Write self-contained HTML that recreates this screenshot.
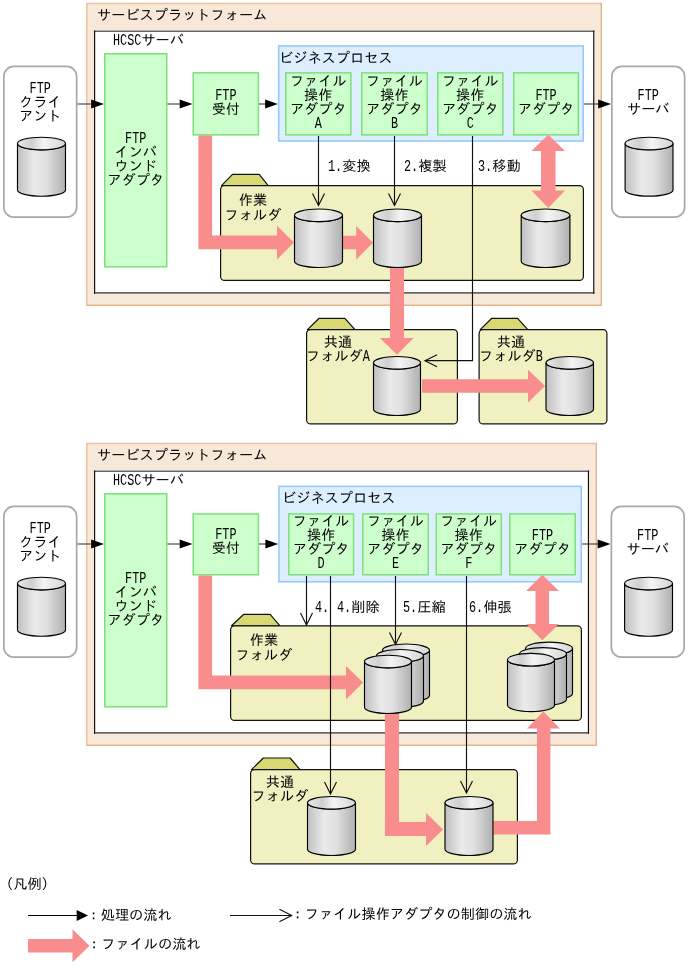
<!DOCTYPE html>
<html lang="ja"><head><meta charset="utf-8"><title>FTP連携</title>
<style>
html,body{margin:0;padding:0;background:#fff;}
svg{display:block;will-change:transform;}
text{font-family:"Liberation Sans", "IPAGothic", sans-serif;fill:#000;}
text.l{font-family:"Liberation Mono", monospace;}
</style></head><body>
<svg width="688" height="965" viewBox="0 0 688 965">
<defs>
<linearGradient id="gb" x1="0" x2="1" y1="0" y2="0"><stop offset="0" stop-color="#c0c0c0"/><stop offset="0.35" stop-color="#eaeaea"/><stop offset="0.6" stop-color="#e0e0e0"/><stop offset="1" stop-color="#b0b0b0"/></linearGradient>
<linearGradient id="gt" x1="0" x2="1" y1="0" y2="0"><stop offset="0" stop-color="#e8e8e8"/><stop offset="0.3" stop-color="#d0d0d0"/><stop offset="0.55" stop-color="#f4f4f4"/><stop offset="1" stop-color="#d4d4d4"/></linearGradient>
</defs>
<rect x="86" y="2.8" width="516" height="303.2" fill="#f8e8d9"/>
<path d="M86.75,306 V3.55 H602" stroke="#edc49e" stroke-width="1.5" fill="none"/>
<path d="M86,305.3 H601.3 V2.8" stroke="#e3b58b" stroke-width="1.4" fill="none"/>
<text x="97.00" y="19.61" font-size="14.2">サービスプラットフォーム</text>
<rect x="94" y="30.5" width="500.4" height="263.3" fill="#fff"/>
<path d="M94,31.3 H594.4 M94,292.9 H594.4" stroke="#666" stroke-width="1.6" fill="none"/>
<path d="M94.6,30.5 V293.7 M593.75,30.5 V293.7" stroke="#111" stroke-width="1.2" fill="none"/>
<text class="l" transform="translate(113.00,45.11) scale(0.7305,1)" font-size="16.2">HCSC</text>
<text x="141.40" y="45.11" font-size="14.2">サーバ</text>
<rect x="3.85" y="66.35" width="72.80" height="150.80" fill="#fff" stroke="#a8a8a8" stroke-width="1.7" rx="10"/>
<text class="l" transform="translate(29.60,92.61) scale(0.7305,1)" font-size="16.2">FTP</text>
<text x="18.95" y="106.61" font-size="14.2">クライ</text>
<text x="18.95" y="120.61" font-size="14.2">アント</text>
<path d="M17.5,143.5 L17.5,189.89999999999998 A24.0,6.3 0 0 0 65.5,189.89999999999998 L65.5,143.5 A24.0,6.3 0 0 1 17.5,143.5 Z" fill="url(#gb)" stroke="#000" stroke-width="1.15"/>
<ellipse cx="41.5" cy="143.5" rx="24.0" ry="6.3" fill="url(#gt)" stroke="#000" stroke-width="1.15"/>
<rect x="611.85" y="66.35" width="72.80" height="150.80" fill="#fff" stroke="#a8a8a8" stroke-width="1.7" rx="10"/>
<text class="l" transform="translate(637.60,99.61) scale(0.7305,1)" font-size="16.2">FTP</text>
<text x="626.95" y="113.61" font-size="14.2">サーバ</text>
<path d="M625.1,143.5 L625.1,189.89999999999998 A23.94999999999999,6.3 0 0 0 673.0,189.89999999999998 L673.0,143.5 A23.94999999999999,6.3 0 0 1 625.1,143.5 Z" fill="url(#gb)" stroke="#000" stroke-width="1.15"/>
<ellipse cx="649.05" cy="143.5" rx="23.94999999999999" ry="6.3" fill="url(#gt)" stroke="#000" stroke-width="1.15"/>
<rect x="104.75" y="53.75" width="62.00" height="213.00" fill="#ccffcc" stroke="#7ce07c" stroke-width="1.5"/>
<text class="l" transform="translate(125.10,142.86) scale(0.7305,1)" font-size="16.2">FTP</text>
<text x="114.45" y="156.86" font-size="14.2">インバ</text>
<text x="114.45" y="170.86" font-size="14.2">ウンド</text>
<text x="107.35" y="184.86" font-size="14.2">アダプタ</text>
<rect x="193.25" y="72.85" width="65.20" height="62.00" fill="#ccffcc" stroke="#7ce07c" stroke-width="1.5"/>
<text class="l" transform="translate(215.20,100.11) scale(0.7305,1)" font-size="16.2">FTP</text>
<text x="211.65" y="114.11" font-size="14.2">受付</text>
<rect x="278.65" y="45.95" width="304.60" height="95.10" fill="#ddeeff" stroke="#94c6ff" stroke-width="1.5"/>
<text x="279.00" y="62.91" font-size="14.2">ビジネスプロセス</text>
<rect x="285.75" y="72.85" width="65.10" height="62.00" fill="#ccffcc" stroke="#7ce07c" stroke-width="1.5"/>
<text x="289.90" y="86.11" font-size="14.2">ファイル</text>
<text x="304.10" y="100.11" font-size="14.2">操作</text>
<text x="289.90" y="114.11" font-size="14.2">アダプタ</text>
<text class="l" transform="translate(314.75,128.11) scale(0.7305,1)" font-size="16.2">A</text>
<rect x="361.75" y="72.85" width="65.50" height="62.00" fill="#ccffcc" stroke="#7ce07c" stroke-width="1.5"/>
<text x="366.10" y="86.11" font-size="14.2">ファイル</text>
<text x="380.30" y="100.11" font-size="14.2">操作</text>
<text x="366.10" y="114.11" font-size="14.2">アダプタ</text>
<text class="l" transform="translate(390.95,128.11) scale(0.7305,1)" font-size="16.2">B</text>
<rect x="437.75" y="72.85" width="65.10" height="62.00" fill="#ccffcc" stroke="#7ce07c" stroke-width="1.5"/>
<text x="441.90" y="86.11" font-size="14.2">ファイル</text>
<text x="456.10" y="100.11" font-size="14.2">操作</text>
<text x="441.90" y="114.11" font-size="14.2">アダプタ</text>
<text class="l" transform="translate(466.75,128.11) scale(0.7305,1)" font-size="16.2">C</text>
<rect x="513.75" y="72.85" width="64.60" height="62.00" fill="#ccffcc" stroke="#7ce07c" stroke-width="1.5"/>
<text class="l" transform="translate(535.40,100.11) scale(0.7305,1)" font-size="16.2">FTP</text>
<text x="517.65" y="114.11" font-size="14.2">アダプタ</text>
<path d="M77.5,104 L92.2,104" stroke="#2a2a2a" stroke-width="1" fill="none"/>
<path d="M104,104 L91.2,99.6 L91.2,108.4 Z" fill="#000"/>
<path d="M167.5,104 L180.7,104" stroke="#2a2a2a" stroke-width="1" fill="none"/>
<path d="M192.5,104 L179.7,99.6 L179.7,108.4 Z" fill="#000"/>
<path d="M259,104 L266.09999999999997,104" stroke="#2a2a2a" stroke-width="1" fill="none"/>
<path d="M277.9,104 L265.09999999999997,99.6 L265.09999999999997,108.4 Z" fill="#000"/>
<path d="M584,104 L599.2,104" stroke="#2a2a2a" stroke-width="1" fill="none"/>
<path d="M611,104 L598.2,99.6 L598.2,108.4 Z" fill="#000"/>
<path d="M221.5,185.6 L232.5,174.29999999999998 L259.20000000000005,174.29999999999998 L268.2,185.6 Z" fill="#d8d872" stroke="#111" stroke-width="1.2" stroke-linejoin="round"/>
<rect x="220.60" y="185.60" width="362.80" height="94.80" fill="#f0f0c0" stroke="#111" stroke-width="1.2" rx="4"/>
<text x="238.80" y="204.61" font-size="14.2">作業</text>
<text x="224.60" y="219.61" font-size="14.2">フォルダ</text>
<path d="M307.5,329.6 L319.09999999999997,318.3 L344.90000000000003,318.3 L354.9,329.6 Z" fill="#d8d872" stroke="#111" stroke-width="1.2" stroke-linejoin="round"/>
<rect x="306.60" y="329.60" width="150.80" height="94.30" fill="#f0f0c0" stroke="#111" stroke-width="1.2" rx="4"/>
<text x="323.80" y="347.11" font-size="14.2">共通</text>
<text x="306.05" y="360.61" font-size="14.2">フォルダ</text>
<text class="l" transform="translate(362.85,360.61) scale(0.7305,1)" font-size="16.2">A</text>
<path d="M480.2,329.6 L491.79999999999995,318.3 L517.6,318.3 L527.8,329.6 Z" fill="#d8d872" stroke="#111" stroke-width="1.2" stroke-linejoin="round"/>
<rect x="479.10" y="329.60" width="127.80" height="94.30" fill="#f0f0c0" stroke="#111" stroke-width="1.2" rx="4"/>
<text x="496.80" y="347.11" font-size="14.2">共通</text>
<text x="479.05" y="360.61" font-size="14.2">フォルダ</text>
<text class="l" transform="translate(535.85,360.61) scale(0.7305,1)" font-size="16.2">B</text>
<path d="M198.4,135.5 L212.1,135.5 L212.1,235.6 L277,235.6 L277,225.8 L294,242.5 L277,259.5 L277,249.2 L198.4,249.2 Z" fill="#f98c8c"/>
<path d="M342.5,235.8 L356.2,235.8 L356.2,226 L373,242.7 L356.2,259.5 L356.2,249.2 L342.5,249.2 Z" fill="#f98c8c"/>
<path d="M390,265 L404,265 L404,338 L413.5,338 L397,354.8 L380,338 L390,338 Z" fill="#f98c8c"/>
<path d="M422,379.3 L528,379.3 L528,369.7 L545,386 L528,402.5 L528,392.8 L422,392.8 Z" fill="#f98c8c"/>
<path d="M548.3,134.8 L565,151 L555.5,151 L555.5,190.5 L565,190.5 L548.3,207.9 L531.5,190.5 L541,190.5 L541,151 L531.5,151 Z" fill="#f98c8c"/>
<path d="M294.5,215.3 L294.5,261.2 A24.0,6.3 0 0 0 342.5,261.2 L342.5,215.3 A24.0,6.3 0 0 1 294.5,215.3 Z" fill="url(#gb)" stroke="#000" stroke-width="1.15"/>
<ellipse cx="318.5" cy="215.3" rx="24.0" ry="6.3" fill="url(#gt)" stroke="#000" stroke-width="1.15"/>
<path d="M373.5,215.3 L373.5,261.2 A24.0,6.3 0 0 0 421.5,261.2 L421.5,215.3 A24.0,6.3 0 0 1 373.5,215.3 Z" fill="url(#gb)" stroke="#000" stroke-width="1.15"/>
<ellipse cx="397.5" cy="215.3" rx="24.0" ry="6.3" fill="url(#gt)" stroke="#000" stroke-width="1.15"/>
<path d="M521.2,215.3 L521.2,261.2 A24.349999999999966,6.3 0 0 0 569.9,261.2 L569.9,215.3 A24.349999999999966,6.3 0 0 1 521.2,215.3 Z" fill="url(#gb)" stroke="#000" stroke-width="1.15"/>
<ellipse cx="545.55" cy="215.3" rx="24.349999999999966" ry="6.3" fill="url(#gt)" stroke="#000" stroke-width="1.15"/>
<path d="M373.5,362.8 L373.5,409.2 A23.5,6.3 0 0 0 420.5,409.2 L420.5,362.8 A23.5,6.3 0 0 1 373.5,362.8 Z" fill="url(#gb)" stroke="#000" stroke-width="1.15"/>
<ellipse cx="397.0" cy="362.8" rx="23.5" ry="6.3" fill="url(#gt)" stroke="#000" stroke-width="1.15"/>
<path d="M546.0,362.8 L546.0,409.2 A23.75,6.3 0 0 0 593.5,409.2 L593.5,362.8 A23.75,6.3 0 0 1 546.0,362.8 Z" fill="url(#gb)" stroke="#000" stroke-width="1.15"/>
<ellipse cx="569.75" cy="362.8" rx="23.75" ry="6.3" fill="url(#gt)" stroke="#000" stroke-width="1.15"/>
<path d="M318.5,136 L318.5,205.5" stroke="#111" stroke-width="1.15" fill="none"/>
<path d="M312.5,193.5 L318.5,205.5 L324.5,193.5" stroke="#111" stroke-width="1.15" fill="none"/>
<path d="M394.5,136 L394.5,205.5" stroke="#111" stroke-width="1.15" fill="none"/>
<path d="M388.5,193.5 L394.5,205.5 L400.5,193.5" stroke="#111" stroke-width="1.15" fill="none"/>
<path d="M472.5,136 L472.5,360.6 L425,360.6" stroke="#111" stroke-width="1.15" fill="none"/>
<path d="M437,354.8 L425,360.8 L437,366.8" stroke="#111" stroke-width="1.15" fill="none"/>
<text class="l" transform="translate(328.00,170.61) scale(0.7305,1)" font-size="16.2">1.</text>
<text x="342.20" y="170.61" font-size="14.2">変換</text>
<text class="l" transform="translate(404.00,170.61) scale(0.7305,1)" font-size="16.2">2.</text>
<text x="418.20" y="170.61" font-size="14.2">複製</text>
<text class="l" transform="translate(478.00,170.61) scale(0.7305,1)" font-size="16.2">3.</text>
<text x="492.20" y="170.61" font-size="14.2">移動</text>
<rect x="86" y="442.8" width="511" height="303.2" fill="#f8e8d9"/>
<path d="M86.75,746 V443.55 H597" stroke="#edc49e" stroke-width="1.5" fill="none"/>
<path d="M86,745.3 H596.3 V442.8" stroke="#e3b58b" stroke-width="1.4" fill="none"/>
<text x="97.00" y="459.61" font-size="14.2">サービスプラットフォーム</text>
<rect x="94" y="470.5" width="495.1" height="263.3" fill="#fff"/>
<path d="M94,471.3 H589.1 M94,732.9 H589.1" stroke="#666" stroke-width="1.6" fill="none"/>
<path d="M94.6,470.5 V733.7 M588.45,470.5 V733.7" stroke="#111" stroke-width="1.2" fill="none"/>
<text class="l" transform="translate(113.00,485.11) scale(0.7305,1)" font-size="16.2">HCSC</text>
<text x="141.40" y="485.11" font-size="14.2">サーバ</text>
<rect x="3.85" y="506.35" width="72.80" height="150.80" fill="#fff" stroke="#a8a8a8" stroke-width="1.7" rx="10"/>
<text class="l" transform="translate(29.60,532.61) scale(0.7305,1)" font-size="16.2">FTP</text>
<text x="18.95" y="546.61" font-size="14.2">クライ</text>
<text x="18.95" y="560.61" font-size="14.2">アント</text>
<path d="M17.5,583.5 L17.5,629.9000000000001 A24.0,6.3 0 0 0 65.5,629.9000000000001 L65.5,583.5 A24.0,6.3 0 0 1 17.5,583.5 Z" fill="url(#gb)" stroke="#000" stroke-width="1.15"/>
<ellipse cx="41.5" cy="583.5" rx="24.0" ry="6.3" fill="url(#gt)" stroke="#000" stroke-width="1.15"/>
<rect x="611.35" y="506.35" width="72.80" height="150.80" fill="#fff" stroke="#a8a8a8" stroke-width="1.7" rx="10"/>
<text class="l" transform="translate(637.10,539.61) scale(0.7305,1)" font-size="16.2">FTP</text>
<text x="626.45" y="553.61" font-size="14.2">サーバ</text>
<path d="M624.6,583.5 L624.6,629.9000000000001 A23.94999999999999,6.3 0 0 0 672.5,629.9000000000001 L672.5,583.5 A23.94999999999999,6.3 0 0 1 624.6,583.5 Z" fill="url(#gb)" stroke="#000" stroke-width="1.15"/>
<ellipse cx="648.55" cy="583.5" rx="23.94999999999999" ry="6.3" fill="url(#gt)" stroke="#000" stroke-width="1.15"/>
<rect x="104.75" y="493.75" width="62.00" height="213.00" fill="#ccffcc" stroke="#7ce07c" stroke-width="1.5"/>
<text class="l" transform="translate(125.10,582.86) scale(0.7305,1)" font-size="16.2">FTP</text>
<text x="114.45" y="596.86" font-size="14.2">インバ</text>
<text x="114.45" y="610.86" font-size="14.2">ウンド</text>
<text x="107.35" y="624.86" font-size="14.2">アダプタ</text>
<rect x="193.25" y="513.95" width="65.20" height="60.80" fill="#ccffcc" stroke="#7ce07c" stroke-width="1.5"/>
<text class="l" transform="translate(215.20,539.41) scale(0.7305,1)" font-size="16.2">FTP</text>
<text x="211.65" y="553.41" font-size="14.2">受付</text>
<rect x="278.95" y="486.35" width="302.30" height="95.50" fill="#ddeeff" stroke="#94c6ff" stroke-width="1.5"/>
<text x="282.00" y="502.91" font-size="14.2">ビジネスプロセス</text>
<rect x="288.75" y="513.95" width="64.80" height="60.80" fill="#ccffcc" stroke="#7ce07c" stroke-width="1.5"/>
<text x="292.75" y="526.11" font-size="14.2">ファイル</text>
<text x="306.95" y="540.11" font-size="14.2">操作</text>
<text x="292.75" y="554.11" font-size="14.2">アダプタ</text>
<text class="l" transform="translate(317.60,568.11) scale(0.7305,1)" font-size="16.2">D</text>
<rect x="362.75" y="513.95" width="65.50" height="60.80" fill="#ccffcc" stroke="#7ce07c" stroke-width="1.5"/>
<text x="367.10" y="526.11" font-size="14.2">ファイル</text>
<text x="381.30" y="540.11" font-size="14.2">操作</text>
<text x="367.10" y="554.11" font-size="14.2">アダプタ</text>
<text class="l" transform="translate(391.95,568.11) scale(0.7305,1)" font-size="16.2">E</text>
<rect x="436.25" y="513.95" width="65.00" height="60.80" fill="#ccffcc" stroke="#7ce07c" stroke-width="1.5"/>
<text x="440.35" y="526.11" font-size="14.2">ファイル</text>
<text x="454.55" y="540.11" font-size="14.2">操作</text>
<text x="440.35" y="554.11" font-size="14.2">アダプタ</text>
<text class="l" transform="translate(465.20,568.11) scale(0.7305,1)" font-size="16.2">F</text>
<rect x="509.75" y="513.95" width="65.50" height="60.80" fill="#ccffcc" stroke="#7ce07c" stroke-width="1.5"/>
<text class="l" transform="translate(531.85,540.11) scale(0.7305,1)" font-size="16.2">FTP</text>
<text x="514.10" y="554.11" font-size="14.2">アダプタ</text>
<path d="M77.5,544 L92.2,544" stroke="#2a2a2a" stroke-width="1" fill="none"/>
<path d="M104,544 L91.2,539.6 L91.2,548.4 Z" fill="#000"/>
<path d="M167.5,544 L180.7,544" stroke="#2a2a2a" stroke-width="1" fill="none"/>
<path d="M192.5,544 L179.7,539.6 L179.7,548.4 Z" fill="#000"/>
<path d="M259,544 L266.4,544" stroke="#2a2a2a" stroke-width="1" fill="none"/>
<path d="M278.2,544 L265.4,539.6 L265.4,548.4 Z" fill="#000"/>
<path d="M582,544 L598.7,544" stroke="#2a2a2a" stroke-width="1" fill="none"/>
<path d="M610.5,544 L597.7,539.6 L597.7,548.4 Z" fill="#000"/>
<path d="M231.5,625.8000000000001 L243.8,614.3000000000001 L270.1,614.3000000000001 L280.0,625.8000000000001 Z" fill="#d8d872" stroke="#111" stroke-width="1.2" stroke-linejoin="round"/>
<rect x="230.60" y="625.80" width="350.80" height="94.60" fill="#f0f0c0" stroke="#111" stroke-width="1.2" rx="4"/>
<text x="249.80" y="644.61" font-size="14.2">作業</text>
<text x="235.60" y="659.61" font-size="14.2">フォルダ</text>
<path d="M251.5,769.6 L263.4,758.0 L290.1,758.0 L300.0,769.6 Z" fill="#d8d872" stroke="#111" stroke-width="1.2" stroke-linejoin="round"/>
<rect x="250.60" y="769.60" width="266.80" height="94.30" fill="#f0f0c0" stroke="#111" stroke-width="1.2" rx="4"/>
<text x="265.80" y="787.11" font-size="14.2">共通</text>
<text x="251.60" y="800.61" font-size="14.2">フォルダ</text>
<path d="M198.4,575.5 L212.1,575.5 L212.1,675.5 L346,675.5 L346,666 L363,682.6 L346,699.5 L346,689.2 L198.4,689.2 Z" fill="#f98c8c"/>
<path d="M385,710 L399,710 L399,822 L426,822 L426,813 L443,829.5 L426,846 L426,836 L385,836 Z" fill="#f98c8c"/>
<path d="M493.5,821 L537,821 L537,728.6 L526.8,728.6 L543.4,711.6 L560,728.6 L550.4,728.6 L550.4,834.6 L493.5,834.6 Z" fill="#f98c8c"/>
<path d="M542.3,574.8 L559,591 L549,591 L549,624 L559,624 L542.3,640.2 L526,624 L535.5,624 L535.5,591 L526,591 Z" fill="#f98c8c"/>
<path d="M382.5,650.3 L382.5,695.45 A23.5,6.3 0 0 0 429.5,695.45 L429.5,650.3 A23.5,6.3 0 0 1 382.5,650.3 Z" fill="url(#gb)" stroke="#000" stroke-width="1.15"/>
<ellipse cx="406.0" cy="650.3" rx="23.5" ry="6.3" fill="url(#gt)" stroke="#000" stroke-width="1.15"/>
<path d="M376.5,655.8 L376.5,701.2 A23.5,6.3 0 0 0 423.5,701.2 L423.5,655.8 A23.5,6.3 0 0 1 376.5,655.8 Z" fill="url(#gb)" stroke="#000" stroke-width="1.15"/>
<ellipse cx="400.0" cy="655.8" rx="23.5" ry="6.3" fill="url(#gt)" stroke="#000" stroke-width="1.15"/>
<path d="M364.5,661.55 L364.5,707.2 A23.5,6.3 0 0 0 411.5,707.2 L411.5,661.55 A23.5,6.3 0 0 1 364.5,661.55 Z" fill="url(#gb)" stroke="#000" stroke-width="1.15"/>
<ellipse cx="388.0" cy="661.55" rx="23.5" ry="6.3" fill="url(#gt)" stroke="#000" stroke-width="1.15"/>
<path d="M525.5,648.4499999999999 L525.5,693.6 A23.5,6.3 0 0 0 572.5,693.6 L572.5,648.4499999999999 A23.5,6.3 0 0 1 525.5,648.4499999999999 Z" fill="url(#gb)" stroke="#000" stroke-width="1.15"/>
<ellipse cx="549.0" cy="648.4499999999999" rx="23.5" ry="6.3" fill="url(#gt)" stroke="#000" stroke-width="1.15"/>
<path d="M519.5,653.9499999999999 L519.5,699.35 A23.5,6.3 0 0 0 566.5,699.35 L566.5,653.9499999999999 A23.5,6.3 0 0 1 519.5,653.9499999999999 Z" fill="url(#gb)" stroke="#000" stroke-width="1.15"/>
<ellipse cx="543.0" cy="653.9499999999999" rx="23.5" ry="6.3" fill="url(#gt)" stroke="#000" stroke-width="1.15"/>
<path d="M507.5,659.6999999999999 L507.5,705.35 A23.5,6.3 0 0 0 554.5,705.35 L554.5,659.6999999999999 A23.5,6.3 0 0 1 507.5,659.6999999999999 Z" fill="url(#gb)" stroke="#000" stroke-width="1.15"/>
<ellipse cx="531.0" cy="659.6999999999999" rx="23.5" ry="6.3" fill="url(#gt)" stroke="#000" stroke-width="1.15"/>
<path d="M307.5,802.8 L307.5,849.2 A24.0,6.3 0 0 0 355.5,849.2 L355.5,802.8 A24.0,6.3 0 0 1 307.5,802.8 Z" fill="url(#gb)" stroke="#000" stroke-width="1.15"/>
<ellipse cx="331.5" cy="802.8" rx="24.0" ry="6.3" fill="url(#gt)" stroke="#000" stroke-width="1.15"/>
<path d="M445.0,802.8 L445.0,849.2 A24.0,6.3 0 0 0 493.0,849.2 L493.0,802.8 A24.0,6.3 0 0 1 445.0,802.8 Z" fill="url(#gb)" stroke="#000" stroke-width="1.15"/>
<ellipse cx="469.0" cy="802.8" rx="24.0" ry="6.3" fill="url(#gt)" stroke="#000" stroke-width="1.15"/>
<path d="M306.5,576 L306.5,625" stroke="#111" stroke-width="1.15" fill="none"/>
<path d="M300.5,613 L306.5,625 L312.5,613" stroke="#111" stroke-width="1.15" fill="none"/>
<path d="M330.5,576 L330.5,794" stroke="#111" stroke-width="1.15" fill="none"/>
<path d="M324.5,782 L330.5,794 L336.5,782" stroke="#111" stroke-width="1.15" fill="none"/>
<path d="M395.5,576 L395.5,644.5" stroke="#111" stroke-width="1.15" fill="none"/>
<path d="M389.5,632.5 L395.5,644.5 L401.5,632.5" stroke="#111" stroke-width="1.15" fill="none"/>
<path d="M466.5,576 L466.5,793" stroke="#111" stroke-width="1.15" fill="none"/>
<path d="M460.5,781 L466.5,793 L472.5,781" stroke="#111" stroke-width="1.15" fill="none"/>
<text class="l" transform="translate(315.00,611.61) scale(0.7305,1)" font-size="16.2">4.</text>
<text class="l" transform="translate(337.00,611.61) scale(0.7305,1)" font-size="16.2">4.</text>
<text x="351.20" y="611.61" font-size="14.2">削除</text>
<text class="l" transform="translate(403.00,611.61) scale(0.7305,1)" font-size="16.2">5.</text>
<text x="417.20" y="611.61" font-size="14.2">圧縮</text>
<text class="l" transform="translate(469.00,611.61) scale(0.7305,1)" font-size="16.2">6.</text>
<text x="483.20" y="611.61" font-size="14.2">伸張</text>
<text x="-1.00" y="889.11" font-size="14.2">（凡例）</text>
<path d="M28,915.5 L77.7,915.5" stroke="#000" stroke-width="1" fill="none"/>
<path d="M88,915.5 L76.7,909.9 L76.7,921.1 Z" fill="#000"/>
<text x="86.50" y="919.61" font-size="14.2">：処理の流れ</text>
<path d="M230,915.5 L291,915.5" stroke="#111" stroke-width="1.15" fill="none"/>
<path d="M279.4,909.2 L291.7,915.5 L279.4,921.8" stroke="#111" stroke-width="1.15" fill="none"/>
<text x="290.50" y="919.41" font-size="14.2">：ファイル操作アダプタの制御の流れ</text>
<path d="M28,939 L72.5,939 L72.5,929.3 L89.5,945.8 L72.5,962.3 L72.5,952.6 L28,952.6 Z" fill="#f98c8c"/>
<text x="87.00" y="949.41" font-size="14.2">：ファイルの流れ</text>
</svg>
</body></html>
